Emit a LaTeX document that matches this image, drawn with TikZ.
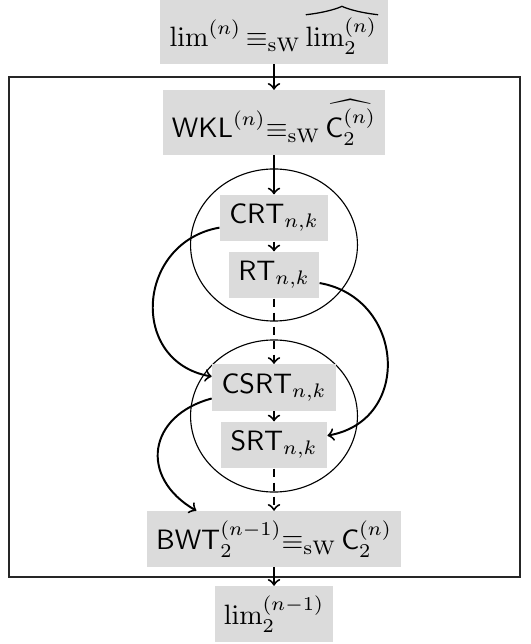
\documentclass[tikz,border=0pt]{standalone}
\usepackage{amsmath}
\usetikzlibrary{shapes.geometric}
\newlength\hatw
\newcommand\wh[1]{\settowidth{\hatw}{$#1$}\vbox{\hbox{\tikz[baseline=0pt]\draw[line width=0.45pt,line cap=round] (0pt,0pt) .. controls (0.3\hatw,0.9pt) and (0.45\hatw,2.4pt) .. (0.5\hatw,3pt) .. controls (0.55\hatw,2.4pt) and (0.7\hatw,0.9pt) .. (\hatw,0pt);}\nointerlineskip\kern0.8pt\hbox{$#1$}}}
\begin{document}
\begin{tikzpicture}[x=0.3571pt,y=0.3571pt,
  box/.style={fill=gray!28, inner sep=3.33pt},
  arr/.style={->, line width=0.7pt},
  dsh/.style={->, line width=0.7pt, dash pattern=on 3pt off 2pt},
  ell/.style={draw, ellipse, line width=0.4pt, inner sep=0pt, minimum width=59.6pt, minimum height=54.3pt}]
\useasboundingbox (0,0) rectangle (530,-644);
\draw[black!85, line width=0.5pt] (9,-77) rectangle (520,-577);
\node[ell] (e1) at (274,-245) {};
\node[ell] (e2) at (274,-416) {};
\node[box] (top) at (274,-30) {$\lim^{(n)} {\equiv_{\mathrm{sW}}}\, \wh{\lim_2^{(n)}}$};
\node[box] (wkl) at (274,-122.5) {$\mathsf{WKL}^{(n)} {\equiv_{\mathrm{sW}}}\, \widehat{\mathsf{C}_2^{(n)}}$};
\node[box] (crt) at (274,-218) {$\mathsf{CRT}_{n,k}$};
\node[box] (rt) at (274,-275) {$\mathsf{RT}_{n,k}$};
\node[box] (csrt) at (274,-387.5) {$\mathsf{CSRT}_{n,k}$};
\node[box] (srt) at (274,-445) {$\mathsf{SRT}_{n,k}$};
\node[box] (bwt) at (274,-539) {$\mathsf{BWT}_2^{(n-1)} {\equiv_{\mathrm{sW}}}\, \mathsf{C}_2^{(n)}$};
\node[box] (limb) at (274,-614) {$\lim_2^{(n-1)}$};
\draw[arr] (top) -- (wkl);
\draw[arr] (wkl) -- (crt);
\draw[arr] (crt) -- (rt);
\draw[dsh] (rt) -- (csrt);
\draw[arr] (csrt) -- (srt);
\draw[dsh] (srt) -- (bwt);
\draw[arr] (bwt) -- (limb);
\draw[arr] (crt.190) to[out=190,in=170,looseness=1.45] (csrt.170);
\draw[arr] (rt.-10) to[out=-10,in=10,looseness=1.45] (srt.10);
\draw[arr] (csrt.190) to[out=195,in=150,looseness=1.5] (bwt.160);
\end{tikzpicture}
\end{document}
